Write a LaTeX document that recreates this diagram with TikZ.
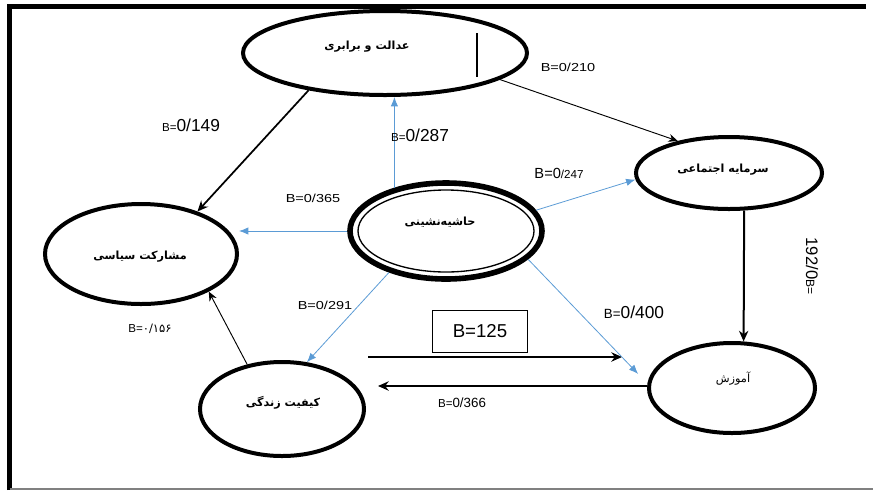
\documentclass[tikz,border=0pt]{standalone}
\usepackage{fontspec}
\usepackage{graphicx}
\setmainfont{Liberation Sans}
\newfontfamily\arabicfont[Script=Arabic]{DejaVu Sans}
\TeXXeTstate=1
\usetikzlibrary{arrows.meta,shapes.geometric,calc}
\newcommand\fs[1]{\fontsize{#1}{#1}\selectfont}
\newcommand\hstr[1]{\scalebox{1.25}[1]{#1}}
\definecolor{bluec}{RGB}{91,155,213}
\begin{document}
\begin{tikzpicture}[x=0.75pt,y=-0.75pt,
  oval/.style={ellipse, draw, line width=3pt, inner sep=0pt},
  blk/.style={-{Stealth[length=8pt,width=7pt]}, line width=1.3pt},
  thinblk/.style={-{Stealth[length=7pt,width=6pt]}, line width=0.7pt},
  blu/.style={-{Latex[length=7pt,width=5.5pt]}, draw=bluec, line width=0.6pt},
  lab/.style={inner sep=0pt, font=\fs{8.7}},
  fa/.style={inner sep=0pt, font=\arabicfont\bfseries\fs{8.4}}]
\useasboundingbox (0,0) rectangle (873,490);
% frame
\draw[line width=3.5pt] (9.5,490) -- (9.5,6.5) -- (866,6.5);
\draw[gray, line width=1.2pt] (9.5,489) -- (873,489);
% ellipses
\node[oval, minimum width={284*0.75pt}, minimum height={84*0.75pt}] (a) at (385,53) {};
\node[oval, minimum width={186*0.75pt}, minimum height={72*0.75pt}] (s) at (729,173) {};
\node[oval, minimum width={192*0.75pt}, minimum height={100*0.75pt}] (m) at (141,254) {};
\node[oval, line width=4.2pt, minimum width={192*0.75pt}, minimum height={96*0.75pt}] (h) at (446,231) {};
\draw[line width=1pt] (h.center) ellipse [x radius=88, y radius=41];
\node[oval, minimum width={164*0.75pt}, minimum height={94*0.75pt}] (k) at (282,409) {};
\node[oval, minimum width={166*0.75pt}, minimum height={90*0.75pt}] (e) at (732,388) {};
% texts
\node[fa] (ta) at (367,47) {\beginR عدالت و برابری\endR};
\draw[line width=0.8pt] (477,33) -- (477,77);
\node[fa] (ts) at (723,170) {\beginR سرمایه اجتماعی\endR};
\node[fa] (tm) at (140,257) {\beginR مشارکت سیاسی\endR};
\node[fa] (th) at (440,222) {\beginR حاشیه‌نشینی\endR};
\node[fa] (tk) at (283,403) {\beginR کیفیت زندگی\endR};
\node[inner sep=0pt, font=\arabicfont\fs{8.5}] (te) at (733,379) {\beginR آموزش\endR};
% black connectors
\draw[blk] (a.206) -- (m.37);
\draw[thinblk] (a.347) -- (s.148);
\draw[blk, line width=1.5pt] (s.-68.5) -- (e.76);
\draw[thinblk] (k.128.5) -- (m.331);
\coordinate (r1) at (368,357);
\coordinate (r2) at (622,357);
\draw[blk, line width=1.6pt] (r1) -- (r2);
\coordinate (l2) at (378,386);
\draw[blk, line width=1.6pt] (e.west |- l2) -- (l2);
% blue connectors
\draw[blu] (h.140) -- (h.140 |- a.south);
\draw[blu] (h.west) -- (h.west -| m.east);
\draw[blu] (h.13.3) -- (s.184.7);
\draw[blu] (h.216.2) -- (k.62.9);
\draw[blu, shorten >=10pt] (h.341) -- (e.177.6);
% labels
\node[lab] (l149) at (191,125) {\fs{8.7}B=\fs{13}0/149};
\node[lab] (l210) at (568,67) {\hstr{B=0/210}};
\node[lab] (l287) at (420,135) {\fs{8.7}B=\fs{13}0/287};
\node[lab] (l247) at (559,173) {\fs{11}B=0\fs{8.7}/247};
\node[lab] (l365) at (313,198) {\hstr{B=0/365}};
\node[lab] (l291) at (325,305) {\hstr{B=0/291}};
\node[lab] (l400) at (634,312) {\fs{10}B=\fs{13}0/400};
\node[lab] (l366) at (462,403) {\fs{8.7}B=\fs{10}0/366};
\node[lab] (l156) at (150,329) {B=\arabicfont ۰/۱۵۶};
\node[draw, line width=0.6pt, minimum width={95*0.75pt}, minimum height={42*0.75pt}, font=\fs{14}] (box) at (480,331) {B=125};
\node[lab, rotate=-90] (l192) at (812,266) {\fs{12.5}192/0\fs{9}B=};
\end{tikzpicture}
\end{document}
